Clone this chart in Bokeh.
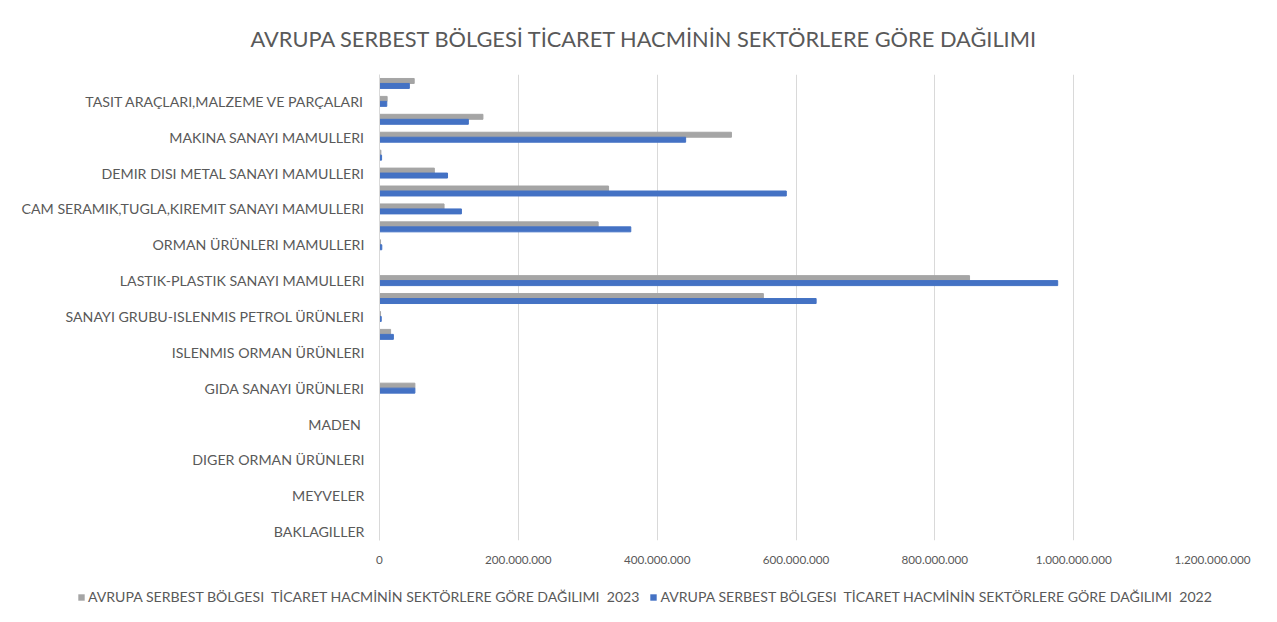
from bokeh.plotting import figure
from bokeh.models import Range1d, FixedTicker, Legend, LegendItem, Title
from bokeh.embed import file_html
from bokeh.resources import INLINE

title_text = "AVRUPA SERBEST BÖLGESİ TİCARET HACMİNİN SEKTÖRLERE GÖRE DAĞILIMI"
series_2023 = "AVRUPA SERBEST BÖLGESI  TİCARET HACMİNİN SEKTÖRLERE GÖRE DAĞILIMI  2023"
series_2022 = "AVRUPA SERBEST BÖLGESI  TİCARET HACMİNİN SEKTÖRLERE GÖRE DAĞILIMI  2022"

# category positions (bottom -> top); only every second category label is shown
positions = list(range(26))
label_positions = [0, 2, 4, 6, 8, 10, 12, 14, 16, 18, 20, 22, 24]
category_labels = [
    "BAKLAGILLER",
    "MEYVELER",
    "DIGER ORMAN ÜRÜNLERI",
    "MADEN ",
    "GIDA SANAYI ÜRÜNLERI",
    "ISLENMIS ORMAN ÜRÜNLERI",
    "SANAYI GRUBU-ISLENMIS PETROL ÜRÜNLERI",
    "LASTIK-PLASTIK SANAYI MAMULLERI",
    "ORMAN ÜRÜNLERI MAMULLERI",
    "CAM SERAMIK,TUGLA,KIREMIT SANAYI MAMULLERI",
    "DEMIR DISI METAL SANAYI MAMULLERI",
    "MAKINA SANAYI MAMULLERI",
    "TASIT ARAÇLARI,MALZEME VE PARÇALARI",
]

# values (millions), bottom -> top
values_2023_m = [0, 0, 0, 0, 0, 0, 0, 0, 51, 0, 0, 16, 1.5, 553, 850, 0,
                 1.5, 315, 93, 330, 79, 2, 507, 149, 11, 50]
values_2022_m = [0, 0, 0, 0, 0, 0, 0, 0, 51, 0, 0, 20, 2.5, 629, 977, 0,
                 3.3, 362, 118, 586, 98, 3, 441, 128, 10.5, 43]

x_ticks = [0, 200e6, 400e6, 600e6, 800e6, 1000e6, 1200e6]
x_tick_labels = ["0", "200.000.000", "400.000.000", "600.000.000",
                 "800.000.000", "1.000.000.000", "1.200.000.000"]

values_2023 = [v * 1e6 for v in values_2023_m]
values_2022 = [v * 1e6 for v in values_2022_m]

FONT = "Lato"
TXT = "#595959"
GRAY = "#A5A5A5"
BLUE = "#4472C4"
W = 1270

p = figure(width=W, height=580, output_backend="svg", toolbar_location=None,
           x_range=Range1d(0, 1200e6), y_range=Range1d(-0.5, 25.5),
           min_border_left=379, min_border_right=W - 1212, min_border_top=73,
           min_border_bottom=40, title=None)
p.outline_line_color = None
p.background_fill_color = "white"
p.border_fill_color = "white"

bar_h = 0.278
off = 0.139
p.hbar(y=[v + off for v in positions], right=values_2023, left=0,
       height=bar_h, color=GRAY)
p.hbar(y=[v - off for v in positions], right=values_2022, left=0,
       height=bar_h, color=BLUE)

# axes
p.xaxis.ticker = FixedTicker(ticks=x_ticks)
p.xaxis.major_label_overrides = {t: l for t, l in zip(x_ticks, x_tick_labels)}
p.xaxis.axis_line_color = None
p.xaxis.major_tick_line_color = None
p.xaxis.minor_tick_line_color = None
p.xaxis.major_label_text_font = FONT
p.xaxis.major_label_text_font_size = "11.7px"
p.xaxis.major_label_text_color = TXT
p.xaxis.major_label_standoff = 9

p.yaxis.ticker = FixedTicker(ticks=label_positions)
p.yaxis.major_label_overrides = {t: l for t, l in zip(label_positions, category_labels)}
p.yaxis.axis_line_color = "#D9D9D9"
p.yaxis.axis_line_width = 1
p.yaxis.major_tick_line_color = None
p.yaxis.minor_tick_line_color = None
p.yaxis.major_label_text_font = FONT
p.yaxis.major_label_text_font_size = "14.2px"
p.yaxis.major_label_text_color = TXT
p.yaxis.major_label_standoff = 9

p.xgrid.grid_line_color = "#D9D9D9"
p.xgrid.grid_line_width = 1
p.ygrid.grid_line_color = None

title = Title(text=title_text, align="left", offset=-129, standoff=45,
              text_font=FONT, text_font_size="21.8px", text_color=TXT,
              text_font_style="normal")
p.add_layout(title, "above")

# legend strip below the chart: a separate root whose frame spans its full width
lg = figure(width=W, height=36, output_backend="svg", toolbar_location=None,
            x_range=Range1d(0, 1), y_range=Range1d(0, 1),
            min_border_left=0, min_border_right=0, min_border_top=0,
            min_border_bottom=0)
lg.axis.visible = False
lg.grid.visible = False
lg.outline_line_color = None
lg.border_fill_color = "white"
lg.background_fill_color = "white"
# zero-width swatch renderers outside the strip's range; only legend glyphs show
l23 = lg.hbar(y=[5], right=[0], left=[0], height=0.5, fill_color=GRAY,
              line_alpha=0)
l22 = lg.hbar(y=[5], right=[0], left=[0], height=0.5, fill_color=BLUE,
              line_alpha=0)
legend = Legend(items=[LegendItem(label=series_2023, renderers=[l23]),
                       LegendItem(label=series_2022, renderers=[l22])],
                orientation="horizontal", location=(77, 11),
                label_text_font=FONT, label_text_font_size="14.1px",
                label_text_color=TXT, glyph_width=8, glyph_height=8,
                label_standoff=3, spacing=10, padding=0, margin=0,
                border_line_color=None, background_fill_alpha=0)
lg.add_layout(legend, "center")

open("out.html", "w").write(file_html((p, lg), INLINE))
